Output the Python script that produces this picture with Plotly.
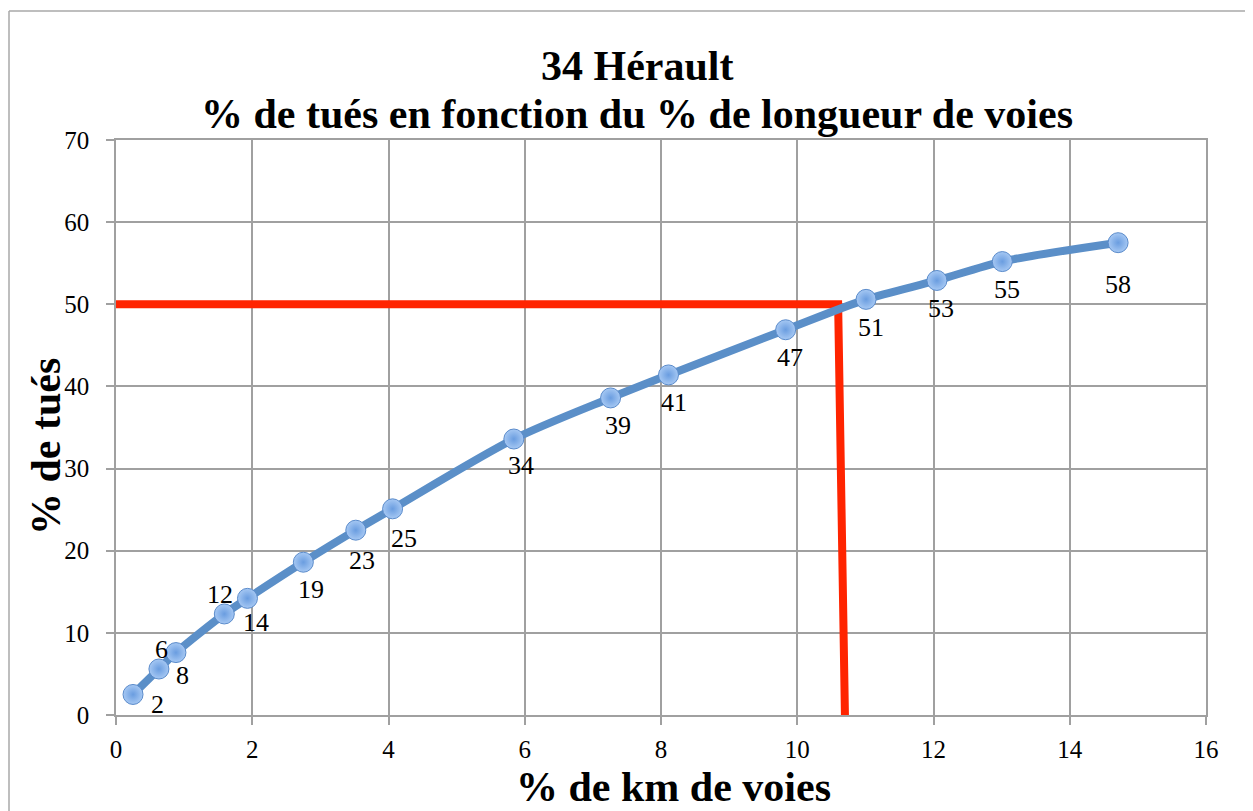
import plotly.graph_objects as go

# ---- data ----
x_pct_km = [0.25, 0.63, 0.88, 1.59, 1.93, 2.75, 3.52, 4.06, 5.84, 7.26, 8.11, 9.83, 11.01, 12.05, 13.01, 14.71]
y_pct_tues = [2.5, 5.6, 7.6, 12.3, 14.2, 18.6, 22.5, 25.1, 33.6, 38.6, 41.4, 46.9, 50.6, 52.9, 55.2, 57.5]
point_labels = ["2", "6", "8", "12", "14", "19", "23", "25", "34", "39", "41", "47", "51", "53", "55", "58"]

threshold_x = [0, 10.6, 10.7]
threshold_y = [50, 50, 0]

x_ticks = [0, 2, 4, 6, 8, 10, 12, 14, 16]
y_ticks = [0, 10, 20, 30, 40, 50, 60, 70]

title_line1 = "34 Hérault"
title_line2 = "% de tués en fonction du % de longueur de voies"
x_title = "% de km de voies"
y_title = "% de tués"

# label pixel offsets (dx right, dy down)
label_dx = [24, 3, 7, -4, 9, 8, 6, 11, 7, 7, 6, 4, 5, 4, 5, 0]
label_dy = [10, -20, 23, -19, 24, 27, 30, 30, 26, 28, 28, 28, 28, 28, 28, 42]

# page has an 8px body margin: figure spans page pixels 8..1253 / 8..811
OFF = 8
PAGE_W, PAGE_H = 1253, 811
W, H = PAGE_W - OFF, PAGE_H - OFF
# plot area in page pixels
PL, PR, PT, PB = 116, 1206, 140, 715
ML, MR, MT, MB = PL - OFF, PAGE_W - PR, PT - OFF, PAGE_H - PB
PW, PH = PR - PL, PB - PT

def px_x(p):
    return (p - PL) / PW

def px_y(p):
    return (PB - p) / PH

fig = go.Figure()

fig.add_trace(go.Scatter(
    x=threshold_x, y=threshold_y, mode="lines",
    line=dict(color="#FF2400", width=8),
    hoverinfo="skip", showlegend=False,
))

fig.add_trace(go.Scatter(
    x=x_pct_km, y=y_pct_tues, mode="lines+markers",
    line=dict(color="#5B8FC8", width=8, shape="spline", smoothing=0.8),
    marker=dict(size=20, color="#A6C8F3",
                gradient=dict(type="radial", color="#6A9DE0"),
                line=dict(color="#5A8BCB", width=1)),
    showlegend=False, cliponaxis=False,
))

serif = "Liberation Serif"
annotations = []
for x, y, t, dx, dy in zip(x_pct_km, y_pct_tues, point_labels, label_dx, label_dy):
    annotations.append(dict(x=x, y=y, xref="x", yref="y", text=t, showarrow=False,
                            xshift=dx, yshift=-dy,
                            font=dict(family=serif, size=26, color="black")))

bold = dict(family=serif, size=42, color="black")
annotations += [
    dict(x=px_x(637), y=px_y(66), xref="paper", yref="paper", text="<b>" + title_line1 + "</b>",
         showarrow=False, font=bold, xanchor="center", yanchor="middle"),
    dict(x=px_x(637), y=px_y(114), xref="paper", yref="paper", text="<b>" + title_line2 + "</b>",
         showarrow=False, font=bold, xanchor="center", yanchor="middle"),
    dict(x=px_x(673), y=px_y(787), xref="paper", yref="paper", text="<b>" + x_title + "</b>",
         showarrow=False, font=bold, xanchor="center", yanchor="middle"),
    dict(x=px_x(46), y=px_y(447), xref="paper", yref="paper", text="<b>" + y_title + "</b>",
         showarrow=False, font=bold, xanchor="center", yanchor="middle", textangle=-90),
]

grid = "#A0A0A0"
fig.update_layout(
    width=W, height=H,
    margin=dict(l=ML, r=MR, t=MT, b=MB, pad=0),
    paper_bgcolor="white", plot_bgcolor="white",
    annotations=annotations,
    shapes=[
        dict(type="line", xref="paper", yref="paper", x0=px_x(9), x1=px_x(9), y0=px_y(11), y1=px_y(PAGE_H + 10),
             line=dict(color="#A8A8A8", width=1.5)),
        dict(type="line", xref="paper", yref="paper", x0=px_x(9), x1=px_x(PAGE_W + 10), y0=px_y(11), y1=px_y(11),
             line=dict(color="#A8A8A8", width=1.5)),
    ],
)
fig.update_xaxes(range=[0, 16], tickvals=x_ticks, ticktext=[str(v) for v in x_ticks],
                 showgrid=True, gridcolor=grid, gridwidth=1.5,
                 showline=True, linecolor=grid, linewidth=1.5, mirror=True,
                 ticks="outside", ticklen=8, tickcolor=grid, tickwidth=1.5,
                 zeroline=False, ticklabelstandoff=3,
                 tickfont=dict(family=serif, size=25, color="black"))
fig.update_yaxes(range=[0, 70], tickvals=y_ticks, ticktext=[str(v) for v in y_ticks],
                 showgrid=True, gridcolor=grid, gridwidth=1.5,
                 showline=True, linecolor=grid, linewidth=1.5, mirror=True,
                 ticks="outside", ticklen=8, tickcolor=grid, tickwidth=1.5,
                 zeroline=False, ticklabelstandoff=12,
                 tickfont=dict(family=serif, size=25, color="black"))

fig.write_html("out.html")
